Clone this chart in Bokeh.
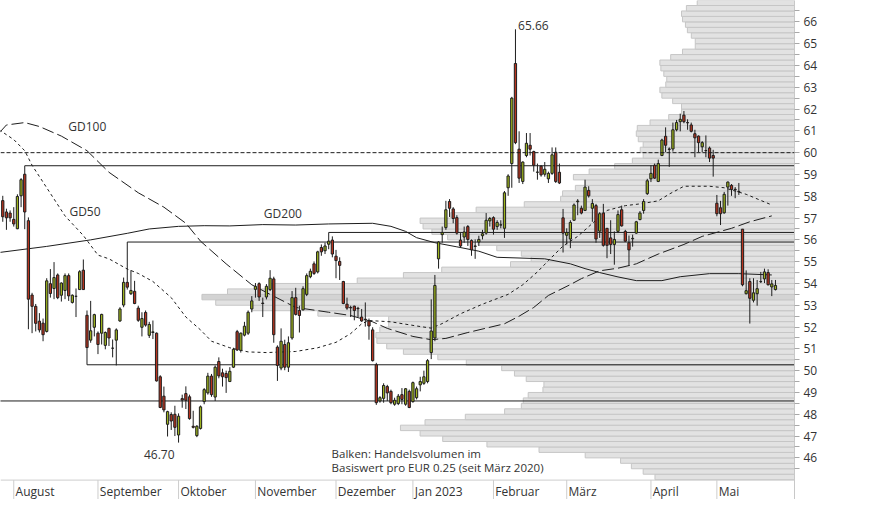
from bokeh.plotting import figure
from bokeh.models import Range1d, FixedTicker, ColumnDataSource, Span
from bokeh.core.properties import value
from bokeh.embed import file_html
from bokeh.resources import INLINE

# ---------------- data ----------------
opens = [57.80, 57.28, 57.23, 56.94, 56.51, 58.02, 59.01, 56.88, 53.47, 52.95,
         52.27, 52.18, 51.80, 53.99, 53.77, 54.39, 53.46, 53.68, 54.36, 53.13,
         53.41, 53.72, 54.61, 52.54, 51.40, 51.99, 51.72, 51.72, 51.16, 51.94,
         51.03, 51.40, 52.28, 53.01, 54.05, 53.53, 53.64, 52.87, 51.99, 52.67,
         51.62, 51.75, 51.72, 49.72, 48.83, 47.54, 47.99, 48.00, 47.05, 48.72,
         48.95, 48.80, 47.45, 47.02, 47.35, 48.58, 48.98, 49.75, 48.79, 50.42,
         49.90, 49.87, 49.50, 50.16, 51.79, 50.93, 51.63, 51.72, 52.83, 53.73,
         53.99, 53.10, 53.38, 53.72, 54.21, 51.08, 50.12, 51.20, 50.16, 51.50,
         53.35, 52.76, 52.79, 53.50, 54.31, 54.90, 54.53, 55.65, 55.50, 55.80,
         55.99, 55.25, 55.01, 54.09, 53.05, 52.90, 52.96, 52.86, 52.46, 52.36,
         52.28, 51.87, 50.27, 48.61, 48.73, 49.27, 49.05, 48.46, 48.49, 48.90,
         48.46, 49.05, 48.58, 48.76, 49.35, 49.42, 49.50, 50.83, 51.50, 55.13,
         56.24, 56.56, 57.76, 57.42, 57.02, 55.99, 56.13, 56.61, 55.97, 55.70,
         55.90, 56.19, 56.31, 56.87, 57.02, 56.61, 56.68, 56.53, 58.39, 59.50,
         64.09, 60.16, 58.68, 59.87, 60.34, 60.05, 59.10, 59.38, 59.01, 58.80,
         59.05, 60.02, 59.10, 57.01, 56.21, 56.04, 56.90, 57.75, 57.45, 57.35,
         58.27, 57.45, 57.57, 56.40, 57.23, 56.53, 56.09, 55.79, 56.39, 57.38,
         56.39, 55.87, 56.05, 56.31, 56.93, 57.35, 58.12, 58.80, 59.42, 58.68,
         59.87, 60.75, 60.17, 60.17, 61.05, 61.42, 61.72, 61.38, 61.27, 60.87,
         60.76, 60.27, 60.10, 60.21, 59.87, 57.68, 57.47, 57.24, 58.42, 58.50,
         58.32, 58.22, 56.49, 53.53, 54.09, 53.23, 53.53, 54.08, 54.21, 54.50,
         53.84, 53.72]
highs = [58.02, 57.43, 57.35, 57.50, 58.09, 58.83, 59.40, 57.03, 53.57, 53.06,
         52.64, 52.39, 54.24, 54.66, 54.98, 54.46, 54.05, 54.46, 54.46, 53.50,
         53.77, 54.61, 55.10, 52.76, 53.20, 52.61, 51.80, 52.61, 51.80, 51.97,
         51.43, 51.94, 52.91, 54.27, 55.90, 54.61, 54.12, 52.98, 52.68, 52.76,
         52.24, 52.30, 51.75, 49.79, 49.27, 48.16, 48.09, 48.39, 48.04, 48.90,
         49.28, 48.90, 48.16, 47.50, 48.40, 49.20, 49.90, 49.85, 50.24, 50.61,
         50.09, 50.00, 50.16, 51.05, 51.87, 51.75, 52.24, 52.76, 53.42, 54.02,
         54.05, 53.35, 53.97, 54.61, 54.31, 51.16, 51.94, 51.42, 51.57, 53.65,
         53.80, 52.98, 53.87, 54.46, 54.68, 55.01, 55.50, 55.79, 55.87, 56.34,
         56.16, 55.54, 55.20, 54.12, 53.35, 52.98, 52.98, 52.93, 52.83, 53.13,
         52.39, 51.99, 50.36, 48.83, 49.42, 49.35, 49.13, 48.76, 48.93, 49.20,
         49.20, 49.13, 49.50, 49.27, 49.72, 50.00, 50.53, 53.27, 54.39, 55.94,
         56.61, 57.79, 57.87, 57.50, 57.13, 56.31, 56.61, 56.68, 56.02, 56.02,
         56.19, 56.46, 57.23, 57.05, 57.08, 56.90, 56.90, 58.24, 59.01, 62.56,
         65.66, 60.98, 59.60, 60.90, 60.90, 60.09, 59.50, 59.42, 59.57, 59.13,
         60.24, 60.24, 59.50, 57.42, 56.53, 56.90, 57.67, 57.87, 57.57, 58.76,
         58.46, 57.87, 57.65, 57.27, 57.65, 56.53, 56.90, 56.39, 57.35, 57.57,
         56.46, 56.20, 56.24, 56.87, 57.32, 57.87, 58.80, 59.42, 59.50, 59.68,
         60.64, 61.16, 60.24, 61.38, 61.50, 61.79, 61.91, 61.53, 61.38, 61.05,
         60.79, 60.53, 60.79, 60.28, 60.13, 58.06, 57.79, 58.20, 58.68, 58.56,
         58.42, 58.61, 56.49, 54.60, 54.24, 54.24, 54.16, 54.53, 54.68, 54.65,
         54.16, 54.16]
lows = [56.83, 56.46, 56.83, 56.61, 56.49, 57.50, 56.49, 51.90, 51.72, 51.80,
        51.75, 51.35, 51.75, 53.35, 53.28, 53.28, 53.17, 53.28, 53.20, 53.08,
        52.46, 53.72, 53.72, 50.27, 51.28, 51.57, 50.76, 51.20, 50.98, 51.13,
        50.61, 50.24, 52.24, 52.91, 53.72, 53.47, 53.05, 52.24, 51.57, 52.02,
        51.50, 51.45, 49.50, 48.28, 48.09, 46.98, 47.28, 47.00, 46.70, 48.30,
        48.24, 47.75, 47.35, 46.95, 47.30, 48.46, 48.90, 48.80, 48.61, 49.65,
        49.27, 48.98, 49.50, 50.12, 50.90, 50.83, 51.57, 51.64, 52.68, 53.35,
        53.20, 52.46, 53.27, 53.65, 51.28, 49.53, 50.02, 50.02, 49.94, 51.42,
        52.53, 51.75, 52.76, 53.42, 54.24, 54.39, 54.46, 55.27, 55.35, 55.57,
        55.20, 54.24, 54.16, 53.05, 52.79, 52.46, 52.31, 52.46, 52.24, 52.02,
        51.42, 50.42, 48.43, 48.53, 48.53, 48.61, 48.46, 48.39, 48.42, 48.46,
        48.39, 48.28, 48.53, 48.68, 49.05, 49.35, 49.42, 50.53, 51.35, 54.68,
        55.87, 56.46, 57.05, 56.76, 56.24, 55.65, 55.87, 55.72, 55.27, 55.13,
        55.72, 56.02, 56.24, 56.61, 56.24, 56.46, 56.53, 56.09, 58.02, 58.39,
        60.39, 58.61, 58.56, 59.79, 59.87, 59.13, 58.76, 58.90, 58.90, 58.61,
        58.98, 58.61, 58.56, 55.42, 55.79, 55.62, 56.87, 57.13, 57.17, 57.32,
        57.94, 56.83, 55.87, 56.09, 55.69, 55.16, 55.35, 54.86, 56.31, 56.61,
        55.90, 54.80, 55.69, 56.28, 56.90, 57.20, 58.06, 58.65, 58.80, 58.65,
        59.84, 60.02, 59.35, 60.05, 60.98, 60.98, 61.35, 61.05, 60.93, 59.79,
        60.02, 60.02, 59.79, 59.57, 58.90, 57.08, 56.68, 57.20, 57.57, 58.02,
        57.91, 58.06, 53.87, 53.50, 52.16, 53.13, 52.98, 54.02, 54.02, 53.91,
        53.42, 53.68]
closes = [57.06, 57.01, 57.01, 56.73, 57.99, 58.76, 57.28, 53.28, 52.95, 52.17,
          51.87, 51.65, 54.12, 53.54, 54.27, 53.35, 54.02, 54.36, 53.43, 53.46,
          53.41, 54.54, 53.72, 51.06, 51.83, 52.57, 51.20, 52.58, 51.75, 51.50,
          51.03, 51.87, 52.83, 54.05, 53.83, 53.68, 53.08, 52.31, 52.39, 52.09,
          52.12, 51.78, 49.53, 48.31, 48.20, 48.12, 47.69, 47.40, 47.91, 48.65,
          48.64, 47.80, 47.40, 47.45, 48.34, 49.13, 49.75, 48.90, 50.16, 49.76,
          49.72, 49.68, 49.97, 50.98, 50.95, 51.72, 52.04, 52.68, 53.20, 53.87,
          53.38, 53.08, 53.87, 54.24, 51.65, 50.24, 51.35, 50.16, 51.28, 53.35,
          52.58, 52.53, 53.76, 54.36, 54.56, 54.46, 55.45, 55.45, 55.72, 55.94,
          55.35, 55.05, 54.83, 53.08, 52.87, 52.88, 52.76, 52.84, 52.28, 52.34,
          52.05, 50.46, 48.53, 48.76, 49.32, 48.98, 48.53, 48.64, 48.83, 48.68,
          49.17, 48.31, 49.45, 49.17, 49.50, 49.72, 50.46, 51.82, 53.91, 55.90,
          56.34, 57.38, 57.45, 56.98, 56.31, 55.72, 56.36, 56.02, 55.54, 55.72,
          56.02, 56.28, 56.90, 56.98, 56.49, 56.80, 56.69, 58.16, 58.93, 62.50,
          60.46, 58.83, 59.57, 60.43, 60.16, 59.42, 59.11, 58.98, 59.24, 59.05,
          59.90, 58.68, 58.61, 56.31, 56.34, 56.80, 57.60, 57.78, 57.23, 58.42,
          58.02, 57.67, 56.04, 57.20, 55.75, 55.75, 55.79, 56.02, 57.16, 56.64,
          55.94, 55.54, 56.07, 56.83, 57.23, 57.76, 58.71, 59.05, 58.83, 59.50,
          60.58, 60.34, 60.15, 61.05, 61.38, 61.53, 61.42, 61.37, 60.98, 60.68,
          60.46, 60.46, 60.09, 59.75, 59.75, 57.20, 57.20, 58.09, 58.65, 58.31,
          58.30, 58.20, 53.94, 53.67, 53.32, 53.57, 53.76, 54.09, 54.53, 53.94,
          53.98, 53.91]

# moving averages (trading-day index, value)
gd200_idx = [-1, 12, 24, 34, 40, 48, 55, 62, 71, 80, 89, 101, 106, 110, 113, 118,
             124, 130, 135, 148, 155, 159, 163, 168, 173, 180, 185, 193, 201, 210]
gd200_val = [55.42, 55.70, 56.00, 56.30, 56.50, 56.62, 56.65, 56.64, 56.70, 56.68,
             56.73, 56.76, 56.62, 56.39, 56.10, 55.87, 55.68, 55.48, 55.20, 55.13,
             54.90, 54.68, 54.50, 54.30, 54.13, 54.13, 54.31, 54.45, 54.45, 54.39]
gd100_idx = [-1, 1, 6, 10, 16, 23, 29, 37, 44, 50, 54, 61, 68, 73, 80, 89, 95, 101,
             105, 112, 117, 121, 127, 137, 141, 145, 149, 155, 158, 163, 168, 173,
             179, 186, 191, 199, 204, 210]
gd100_val = [60.90, 61.27, 61.38, 61.20, 60.76, 60.09, 59.10, 58.16, 57.50, 56.76,
             55.94, 54.90, 53.94, 53.50, 52.90, 52.68, 52.53, 52.24, 51.94, 51.57,
             51.42, 51.48, 51.75, 52.15, 52.50, 52.90, 53.45, 53.95, 54.22, 54.58,
             54.70, 54.90, 55.35, 55.79, 56.16, 56.53, 56.83, 57.10]
gd50_idx = [-1, 3, 6, 8, 12, 17, 22, 26, 29, 34, 37, 41, 46, 50, 54, 57, 62, 67, 72,
            80, 86, 91, 95, 98, 100, 106, 113, 117, 120, 125, 131, 138, 142, 146,
            149, 153, 157, 165, 170, 174, 179, 182, 186, 193, 197, 203, 210]
gd50_val = [61.05, 60.60, 60.09, 59.42, 58.39, 57.10, 56.20, 55.30, 55.13, 54.66,
            54.46, 54.09, 53.35, 52.46, 51.87, 51.35, 51.05, 50.86, 50.83, 50.88,
            51.05, 51.30, 51.70, 52.15, 52.30, 52.24, 52.05, 51.95, 52.16, 52.61,
            53.05, 53.50, 53.94, 54.53, 55.05, 55.72, 56.16, 57.35, 57.57, 57.65,
            57.79, 58.10, 58.46, 58.46, 58.39, 58.09, 57.60]

# volume profile: bins of EUR 0.25 starting at 45.00 (relative volume)
vol_bin_low = [45.00 + 0.25 * k for k in range(88)]
vol_rel = [142, 154, 166, 177, 213, 260, 313, 358, 381, 401,
           376, 335, 295, 278, 276, 271, 256, 255, 273, 285,
           298, 334, 363, 398, 415, 425, 426, 422, 413, 413,
           485, 552, 589, 603, 577, 533, 445, 398, 359, 289,
           268, 278, 303, 322, 353, 369, 378, 381, 350, 324,
           275, 238, 236, 223, 213, 225, 209, 183, 165, 154,
           157, 154, 159, 161, 160, 147, 128, 115, 115, 124,
           135, 137, 131, 130, 133, 136, 137, 126, 114, 101,
           101, 105, 109, 111, 114, 115, 110, 99]

# support / resistance lines: level and starting trading-day index
sr_level = [59.40, 55.90, 50.27, 48.61, 56.34]
sr_start = [6, 34, 23, -1, 89]
dashed_level = 60.0

month_idx = [3, 26, 48, 69, 91, 112, 134, 154, 177, 195]
month_labels = ["August", "September", "Oktober", "November", "Dezember",
                "Jan 2023", "Februar", "März", "April", "Mai"]

y_ticks = list(range(46, 67))
y_minor = [45.5 + k for k in range(22)]

# ---------------- figure ----------------
X0, X1 = -0.62, 216.2
Y0, Y1 = 44.09, 66.98
AXIS_Y = 44.98
FONT = "Open Sans"
TXT = "#333333"
INK = "#1e1e1e"

p = figure(width=858, height=499, x_range=Range1d(X0, X1), y_range=Range1d(Y0, Y1),
           x_axis_location=None, y_axis_location="right",
           toolbar_location=None, output_backend="svg",
           min_border_left=0, min_border_right=64, min_border_top=0, min_border_bottom=0)
p.grid.visible = False
p.outline_line_color = None
p.background_fill_color = "white"
p.border_fill_color = "white"

ax = p.yaxis[0]
ax.ticker = FixedTicker(ticks=y_ticks, minor_ticks=y_minor)
ax.axis_line_color = "#c8c8c8"
ax.major_tick_line_color = "#a8a8a8"
ax.minor_tick_line_color = "#a8a8a8"
ax.major_tick_in = 0
ax.major_tick_out = 5
ax.minor_tick_in = 0
ax.minor_tick_out = 5
ax.major_label_text_font = FONT
ax.major_label_text_font_size = "12px"
ax.major_label_text_color = TXT
ax.major_label_standoff = 4

# volume profile
p.extra_x_ranges = {"vol": Range1d(start=808, end=0)}
vmax = max(vol_rel)
vsrc = ColumnDataSource(dict(
    y=[b + 0.125 for b in vol_bin_low],
    right=vol_rel,
    color=["#d3d3d3" if v == vmax else "#e2e2e2" for v in vol_rel]))
p.hbar(y="y", height=0.25, left=0, right="right", x_range_name="vol",
       fill_color="color", line_color="#c6c6c6", line_width=1, source=vsrc)

# date band
p.add_layout(Span(location=AXIS_Y, dimension="width", line_color="#cdcdcd", line_width=1))
p.segment(x0=month_idx, y0=[Y0] * len(month_idx), x1=month_idx, y1=[AXIS_Y] * len(month_idx),
          line_color="#cdcdcd", line_width=1)
p.text(x=[m + 0.5 for m in month_idx], y=[44.44] * len(month_idx), text=month_labels,
       text_font=value(FONT), text_font_size="12px", text_color=TXT,
       text_align="left", text_baseline="middle")

# support / resistance
p.segment(x0=sr_start, y0=sr_level, x1=[X1] * len(sr_level), y1=sr_level,
          line_color=INK, line_width=1)
p.add_layout(Span(location=dashed_level, dimension="width", line_color=INK,
                  line_width=1, line_dash="4 2"))

# moving averages
p.line(gd200_idx, gd200_val, line_color=INK, line_width=1)
p.line(gd100_idx, gd100_val, line_color=INK, line_width=1, line_dash="12 4")
p.line(gd50_idx, gd50_val, line_color=INK, line_width=1, line_dash="3 3")

# candles
n = len(opens)
idx = list(range(n))
csrc = ColumnDataSource(dict(
    x=idx, o=opens, h=highs, l=lows, c=closes,
    top=[max(a, b) for a, b in zip(opens, closes)],
    bottom=[min(a, b) for a, b in zip(opens, closes)],
    color=["#9db31e" if c >= o else "#b8341f" for o, c in zip(opens, closes)]))
p.segment(x0="x", y0="h", x1="x", y1="l", line_color=INK, line_width=1, source=csrc)
p.vbar(x="x", width=0.62, top="top", bottom="bottom", fill_color="color",
       line_color=INK, line_width=1, source=csrc)

# extreme labels
hi_i = max(idx, key=lambda i: highs[i])
lo_i = min(idx, key=lambda i: lows[i])
p.text(x=[hi_i + 0.7], y=[highs[hi_i] + 0.16], text=[f"{highs[hi_i]:.2f}"],
       text_font=value(FONT), text_font_size="12px", text_color=TXT,
       text_align="left", text_baseline="alphabetic")
p.text(x=[lo_i - 1.1], y=[lows[lo_i] - 0.54], text=[f"{lows[lo_i]:.2f}"],
       text_font=value(FONT), text_font_size="12px", text_color=TXT,
       text_align="right", text_baseline="alphabetic")

# MA labels
p.text(x=[17.9, 18.2, 71.3], y=[61.18, 57.29, 57.22], text=["GD100", "GD50", "GD200"],
       text_font=value(FONT), text_font_size="12px", text_color=TXT,
       text_align="left", text_baseline="middle")

# note
p.text(x=[89.8, 89.8], y=[46.18, 45.56],
       text=["Balken: Handelsvolumen im", "Basiswert pro EUR 0.25 (seit März 2020)"],
       text_font=value(FONT), text_font_size="11.5px", text_color=TXT,
       text_align="left", text_baseline="middle")

open("out.html", "w").write(file_html(p, INLINE))
